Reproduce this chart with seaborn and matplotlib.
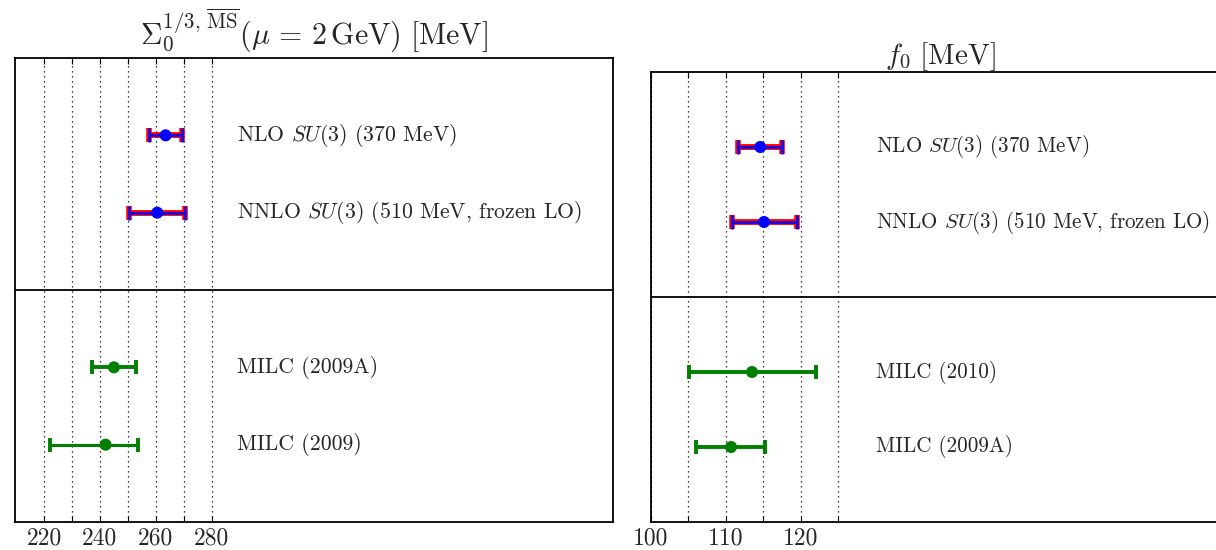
import numpy as np
import pandas as pd
import matplotlib
matplotlib.use("Agg")
import matplotlib.pyplot as plt
import seaborn as sns

# ---------------- data ----------------
# Left panel: Sigma_0^{1/3} (MSbar, mu = 2 GeV) [MeV]
sigma_labels = ["NLO $SU(3)$ (370 MeV)",
                "NNLO $SU(3)$ (510 MeV, frozen LO)",
                "MILC (2009A)",
                "MILC (2009)"]
sigma_values = [263.5, 260.5, 245.0, 242.0]
sigma_err_lo = [6.0, 10.0, 8.0, 20.0]
sigma_err_hi = [6.0, 10.0, 8.0, 11.7]
sigma_group = ["chpt", "chpt", "lattice", "lattice"]
sigma_ticks = [220, 230, 240, 250, 260, 270, 280]
sigma_ticklabels = ["220", "", "240", "", "260", "", "280"]

# Right panel: f_0 [MeV]
f0_labels = ["NLO $SU(3)$ (370 MeV)",
             "NNLO $SU(3)$ (510 MeV, frozen LO)",
             "MILC (2010)",
             "MILC (2009A)"]
f0_values = [114.6, 115.1, 113.5, 110.7]
f0_err_lo = [3.0, 4.3, 8.4, 4.7]
f0_err_hi = [2.9, 4.4, 8.5, 4.5]
f0_group = ["chpt", "chpt", "lattice", "lattice"]
f0_ticks = [100, 105, 110, 115, 120, 125]
f0_ticklabels = ["100", "", "110", "", "120", ""]

# ---------------- style ----------------
sns.set_style("white")
plt.rcParams["font.family"] = ["cmr10", "DejaVu Serif"]
plt.rcParams["mathtext.fontset"] = "cm"
plt.rcParams["axes.unicode_minus"] = False
plt.rcParams["axes.formatter.use_mathtext"] = True

rows = [1, 2, 4, 5]
palette = {"chpt": "#0000ff", "lattice": "#008000"}

fig = plt.figure(figsize=(12.16, 5.5), dpi=100)
axL = fig.add_axes([15 / 1216, 28 / 550, 598 / 1216, 464 / 550])
axR = fig.add_axes([651 / 1216, 28 / 550, 580 / 1216, 450 / 550])


def panel(ax, labels, vals, lo, hi, groups, lws, xlim, ticks, ticklabels,
          text_x, title, text_fs, title_fs, title_pad):
    df = pd.DataFrame({"value": vals, "row": rows, "group": groups})
    for t in ticks:
        ax.axvline(t, color="black", ls=(0, (1, 3)), lw=0.9, zorder=1)
    ax.axhline(3, color="black", lw=1.3, zorder=2)
    for v, r, l, h, g, lw in zip(vals, rows, lo, hi, groups, lws):
        if g == "chpt":
            ax.errorbar(v, r, xerr=[[l], [h]], fmt="none", ecolor="red",
                        elinewidth=4.2, capsize=4.8, capthick=4.0, zorder=3)
            ax.errorbar(v, r, xerr=[[l], [h]], fmt="none", ecolor="#0000ff",
                        elinewidth=1.8, capsize=4.8, capthick=1.8, zorder=4)
        else:
            ax.errorbar(v, r, xerr=[[l], [h]], fmt="none", ecolor="#008000",
                        elinewidth=lw, capsize=4.8, capthick=2.8, zorder=3)
    sns.scatterplot(data=df, x="value", y="row", hue="group", palette=palette,
                    s=75, linewidth=0, legend=False, zorder=5, ax=ax)
    for r, lab in zip(rows, labels):
        ax.text(text_x, r, lab, ha="left", va="center", fontsize=text_fs,
                zorder=6)
    ax.set_xlim(*xlim)
    ax.set_ylim(6, 0)
    ax.set_xticks(ticks)
    ax.set_xticklabels(ticklabels)
    ax.set_yticks([])
    ax.set_xlabel("")
    ax.set_ylabel("")
    ax.tick_params(axis="x", direction="in", length=4, width=0.8,
                   top=True, bottom=True, labelsize=17, pad=4, color="black")
    for s in ax.spines.values():
        s.set_visible(True)
        s.set_color("black")
        s.set_linewidth(1.3)
    ax.set_title(title, fontsize=title_fs, pad=title_pad)


panel(axL, sigma_labels, sigma_values, sigma_err_lo, sigma_err_hi,
      sigma_group, [2.2, 2.2, 2.8, 2.2], (209.6, 423.6), sigma_ticks,
      sigma_ticklabels, 289,
      r"$\Sigma_0^{1/3,\,\overline{\mathrm{MS}}}(\mu\,=\,2\,\mathrm{GeV})\ [\mathrm{MeV}]$",
      15.7, 21.5, 10)
panel(axR, f0_labels, f0_values, f0_err_lo, f0_err_hi,
      f0_group, [2.2, 2.2, 2.8, 2.8], (100, 177.5), f0_ticks,
      f0_ticklabels, 130.0, r"$f_0\ [\mathrm{MeV}]$", 15.2, 21, 6)

fig.savefig("out.png", dpi=100)
